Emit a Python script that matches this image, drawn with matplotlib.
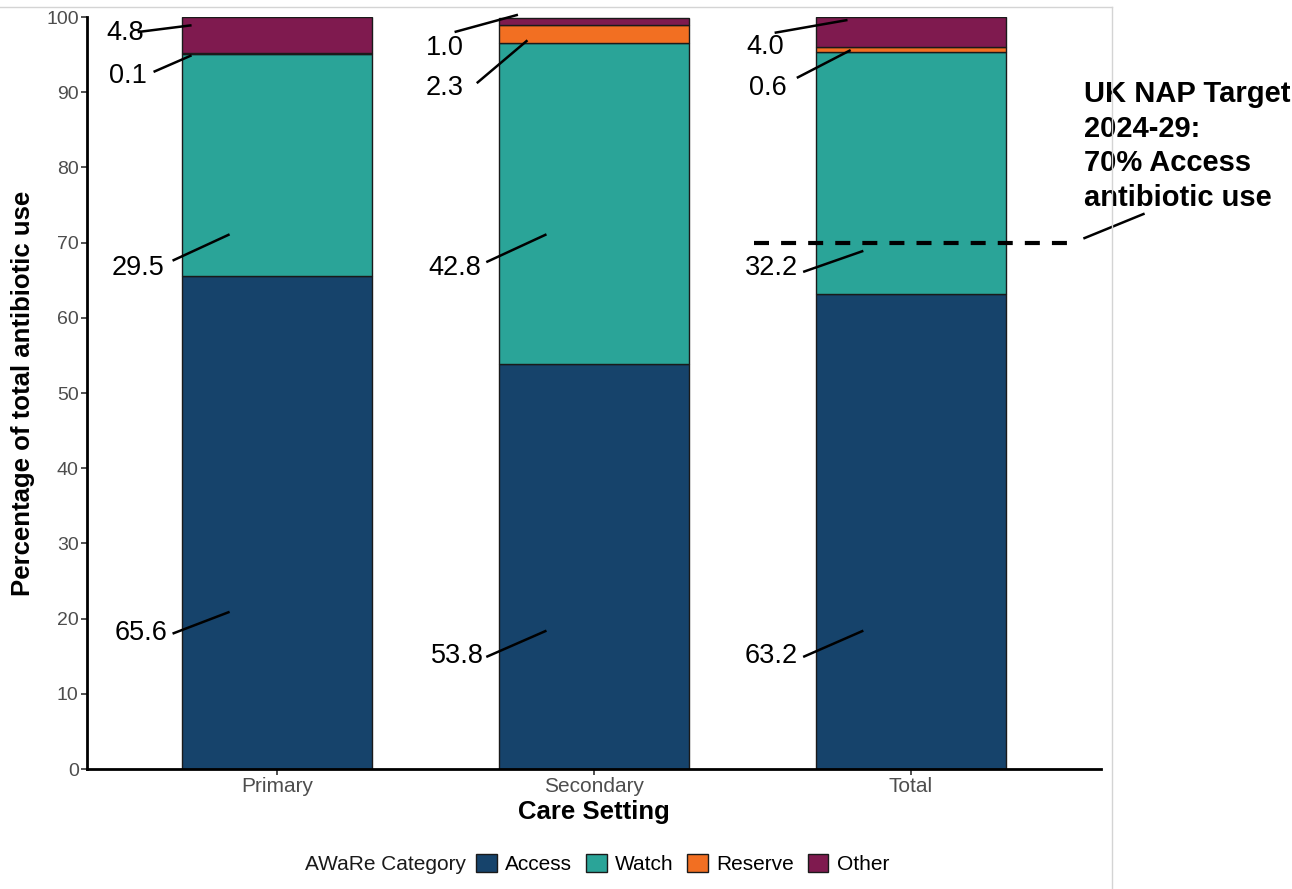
import matplotlib
matplotlib.use("Agg")
import matplotlib.pyplot as plt
from matplotlib.patches import Patch
from matplotlib.lines import Line2D
import numpy as np

plt.rcParams['font.family'] = ['Liberation Sans', 'DejaVu Sans']

settings = ["Primary", "Secondary", "Total"]
categories = ["Access", "Watch", "Reserve", "Other"]
access = [65.6, 53.8, 63.2]
watch = [29.5, 42.8, 32.2]
reserve = [0.1, 2.3, 0.6]
other = [4.8, 1.0, 4.0]
colors = ["#16436b", "#2aa498", "#f26f22", "#7f1a4f"]
target = 70

# label placement: (text x offset, text y, line x0 off, line y0, line x1 off, line y1)
label_pos = {
    0: [(-0.43, 18.1, -0.33, 18.0, -0.15, 20.9),
        (-0.44, 66.6, -0.33, 67.6, -0.15, 71.1),
        (-0.47, 92.2, -0.39, 92.7, -0.27, 94.9),
        (-0.48, 97.9, -0.44, 98.0, -0.27, 98.9)],
    1: [(-0.43, 15.0, -0.34, 14.9, -0.15, 18.4),
        (-0.44, 66.6, -0.34, 67.4, -0.15, 71.1),
        (-0.47, 90.6, -0.37, 91.2, -0.21, 96.9),
        (-0.47, 95.9, -0.44, 98.0, -0.24, 100.3)],
    2: [(-0.44, 15.0, -0.34, 14.9, -0.15, 18.4),
        (-0.44, 66.6, -0.34, 66.1, -0.15, 68.9),
        (-0.45, 90.6, -0.36, 91.9, -0.19, 95.6),
        (-0.46, 96.0, -0.43, 97.9, -0.20, 99.6)],
}

fig = plt.figure(figsize=(12.92, 8.89), dpi=100)
ax = fig.add_axes([87/1292, 1-769/889, (1101-87)/1292, (769-17)/889])

x = np.arange(1, 4)
series = [access, watch, reserve, other]
bottom = np.zeros(3)
for vals, col in zip(series, colors):
    ax.bar(x, vals, width=0.6, bottom=bottom, color=col, edgecolor="#1a1a1a", linewidth=1.0, zorder=2)
    bottom += np.array(vals)

for i in range(3):
    for k, vals in enumerate(series):
        tx, ty, lx0, ly0, lx1, ly1 = label_pos[i][k]
        xi = x[i]
        ax.text(xi + tx, ty, f"{vals[i]:.1f}", ha="center", va="center", fontsize=19.5, color="black", zorder=5)
        ax.plot([xi + lx0, xi + lx1], [ly0, ly1], color="black", lw=1.8, clip_on=False, zorder=5, solid_capstyle="butt")

# target line
ax.plot([2.504, 3.523], [target, target], color="black", lw=3.0, ls=(0, (3.6, 2.9)), zorder=6, clip_on=False)
ax.plot([3.548, 3.734], [70.6, 73.8], color="black", lw=1.8, clip_on=False, zorder=6)
ax.text(3.547, 91.6, "UK NAP Target\n2024-29:\n70% Access\nantibiotic use", ha="left", va="top",
        fontsize=21, fontweight="bold", linespacing=1.3, clip_on=False)

ax.set_xlim(0.4, 3.6)
ax.set_ylim(0, 100)
ax.set_xticks(x)
ax.set_xticklabels(settings, fontsize=15, color="#4d4d4d")
ax.set_yticks(np.arange(0, 101, 10))
ax.set_yticklabels([str(v) for v in range(0, 101, 10)], fontsize=14, color="#4d4d4d")
ax.tick_params(axis="both", length=4, width=1.2, color="#333333", pad=2)
for s in ["top", "right"]:
    ax.spines[s].set_visible(False)
for s in ["left", "bottom"]:
    ax.spines[s].set_linewidth(2.0)
    ax.spines[s].set_color("black")
ax.set_xlabel("Care Setting", fontsize=18.5, fontweight="bold", labelpad=3)
ax.set_ylabel("Percentage of total antibiotic use", fontsize=18.5, fontweight="bold", labelpad=8)

# legend: inline title + keys
fig.text(305/1292, 1-864/889, "AWaRe Category", fontsize=15, color="#1a1a1a", ha="left", va="center")
handles = [Patch(facecolor=c, edgecolor="#1a1a1a", linewidth=1.0) for c in colors]
fig.legend(handles, categories, loc="center left", bbox_to_anchor=(476/1292, 1-864/889), ncol=4,
           frameon=False, fontsize=15, handlelength=1.0, handleheight=1.0, handletextpad=0.4,
           columnspacing=0.65, borderpad=0, borderaxespad=0)

# faint frame lines from source image
fig.add_artist(Line2D([0, 1112/1292], [1-7/889, 1-7/889], color="#d4d4d4", lw=1.0))
fig.add_artist(Line2D([1112/1292, 1112/1292], [0, 1-7/889], color="#d4d4d4", lw=1.0))

fig.savefig("out.png", dpi=100)
